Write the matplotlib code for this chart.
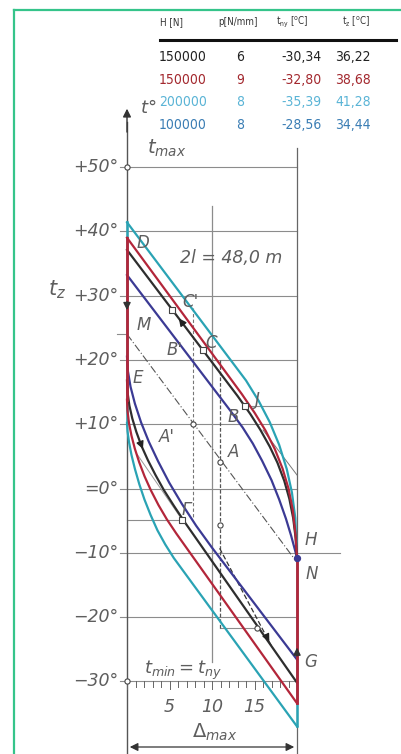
import numpy as np
import matplotlib.pyplot as plt

# picture geometry (pixels)
W, H = 401, 754
X0, XS = 127, 8.5      # pixel of delta = 0, pixels per delta unit
Y0, YS = 488.5, 6.43   # pixel of t = 0, pixels per degree

# table
tab_h = ["150000", "150000", "200000", "100000"]
tab_p = ["6", "9", "8", "8"]
tab_tny = ["-30,34", "-32,80", "-35,39", "-28,56"]
tab_tz = ["36,22", "38,68", "41,28", "34,44"]
tab_colors = ["#222222", "#a3282e", "#5ab4d6", "#3a7db4"]

# heating branches  (0, t_z) -> N
cyan_up_d = [0, 14.0, 15.5, 16.8, 17.9, 18.8, 19.4, 19.8, 20.0]
cyan_up_t = [41.4, 16.8, 13.6, 10.3, 6.8, 3.0, -0.6, -4.6, -10.8]
red_up_d = [0, 13.5, 15.0, 16.3, 17.4, 18.3, 19.0, 19.5, 19.8, 20.0]
red_up_t = [39.0, 14.7, 11.8, 9.0, 6.1, 3.1, 0.0, -3.3, -6.8, -10.8]
black_up_d = [0, 13.0, 14.5, 15.7, 16.8, 17.7, 18.5, 19.1, 19.55, 19.85, 20.0]
black_up_t = [37.1, 14.4, 11.6, 9.1, 6.5, 4.0, 1.2, -1.6, -4.6, -7.8, -10.8]
blue_up_d = [0, 12.1, 13.6, 14.8, 15.9, 17.0, 17.9, 18.7, 19.3, 19.75, 20.0]
blue_up_t = [33.2, 12.2, 9.5, 7.0, 4.3, 1.3, -1.7, -4.7, -7.3, -9.5, -10.8]

# cooling branches  E -> (delta_max, t_ny)
cyan_lo_d = [0, 0.06, 0.24, 0.53, 0.93, 1.44, 2.05, 2.77, 3.58, 4.5, 5.5, 20.0]
cyan_lo_t = [10.2, 8.9, 7.2, 5.2, 3.05, 0.7, -1.7, -4.1, -6.5, -8.7, -10.8, -37.0]
red_lo_d = [0, 0.06, 0.23, 0.52, 0.92, 1.44, 2.07, 2.83, 3.7, 4.69, 5.8, 20.0]
red_lo_t = [13.8, 12.1, 10.2, 8.25, 6.2, 4.06, 1.88, -0.34, -2.57, -4.8, -7.0, -33.4]
black_lo_d = [0, 0.07, 0.28, 0.62, 1.1, 1.71, 2.46, 3.35, 4.36, 5.52, 6.8, 20.0]
black_lo_t = [16.8, 14.9, 12.9, 10.9, 8.8, 6.6, 4.4, 2.1, -0.3, -2.7, -5.25, -30.2]
blue_lo_d = [0, 0.1, 0.42, 0.93, 1.65, 2.56, 3.67, 4.97, 6.46, 8.14, 10.0, 20.0]
blue_lo_t = [20.5, 18.3, 15.8, 13.2, 10.3, 7.3, 4.2, 0.9, -2.4, -5.8, -9.2, -26.6]

d_max = 20.0
t_N = -10.8

# auxiliary construction
mline_d = [0, 20]
mline_t = [24.0, -11.5]
sq_d = [5.3, 8.9, 13.9, 6.5]
sq_t = [27.8, 21.5, 12.8, -4.9]
circ_d = [7.8, 10.9, 10.9, 15.3, 0, 0]
circ_t = [10.0, 4.1, -5.7, -21.7, -30, 50]

y_levels = [50, 40, 30, 20, 10, 0, -10, -20, -30]
y_labels = ["+50°", "+40°", "+30°", "+20°", "+10°", "=0°", "−10°", "−20°", "−30°"]
x_ticks = [5, 10, 15]

CYAN, RED, BLACK, BLUE = "#2aa3b4", "#b3263a", "#2e2e2e", "#3b3a94"
GRID = "#8c8c8c"
TXT = "#5e5e5e"


def px(x, y):
    return (x - X0) / XS, (Y0 - y) / YS


fig = plt.figure(figsize=(W / 100, H / 100), dpi=100)
ax = fig.add_axes([0, 0, 1, 1])
ax.set_xlim(-X0 / XS, (W - X0) / XS)
ax.set_ylim((Y0 - H) / YS, Y0 / YS)
ax.axis('off')

# green frame
fig.add_artist(plt.Line2D([14 / W, 14 / W], [0, 1 - 10 / H], color="#35c48a", lw=1.6))
fig.add_artist(plt.Line2D([14 / W, 1], [1 - 10 / H, 1 - 10 / H], color="#35c48a", lw=1.6))

# table
hy = 1 - 22 / H
fkw = dict(family=['DejaVu Sans'], stretch='condensed')
fig.text(160 / W, hy, "H [N]", fontsize=7, color="#333", va='center', **fkw)
fig.text(238 / W, hy, "p[N/mm]", fontsize=7, color="#333", va='center', ha='center', **fkw)
fig.text(292 / W, hy, r"$\mathregular{t_{ny}}$ [$\mathregular{^o}$C]", fontsize=7, color="#333",
         va='center', ha='center', **fkw)
fig.text(356 / W, hy, r"$\mathregular{t_{z}}$ [$\mathregular{^o}$C]", fontsize=7, color="#333",
         va='center', ha='center', **fkw)
fig.add_artist(plt.Line2D([160 / W, 396 / W], [1 - 40 / H, 1 - 40 / H], color="#111", lw=2.2))
for i in range(4):
    yy = 1 - (57 + 22.7 * i) / H
    c = tab_colors[i]
    fig.text(183 / W, yy, tab_h[i], fontsize=10, color=c, ha='center', va='center', **fkw)
    fig.text(240 / W, yy, tab_p[i], fontsize=10, color=c, ha='center', va='center', **fkw)
    fig.text(301 / W, yy, tab_tny[i], fontsize=10, color=c, ha='center', va='center', **fkw)
    fig.text(353 / W, yy, tab_tz[i], fontsize=10, color=c, ha='center', va='center', **fkw)

# grid / frame lines
for lv in y_levels:
    ax.plot([-0.8, d_max], [lv, lv], color=GRID, lw=0.8, zorder=1)
ax.plot([d_max, 25], [-10, -10], color=GRID, lw=0.8, zorder=1)
ax.plot([13.9, d_max], [12.8, 12.8], color=GRID, lw=0.8, zorder=1)
ax.plot([0, 6.5], [-4.9, -4.9], color=GRID, lw=0.8, zorder=1)
ax.plot([10.9, 15.3], [-21.7, -21.7], color=GRID, lw=0.8, zorder=1)
ax.plot([10, 10], [44, -27], color=GRID, lw=0.9, zorder=1)
ax.plot([d_max, d_max], [53, px(0, H)[1]], color="#666", lw=0.9, zorder=1)
ax.plot([0, 0], [px(0, H)[1], 57], color="#555", lw=1.0, zorder=1)
ax.annotate('', xy=(0, 59.5), xytext=(0, 55), zorder=2,
            arrowprops=dict(arrowstyle='-|>', color='#333', lw=1, mutation_scale=12))
ax.plot([-1.2, 0], [mline_t[0], mline_t[0]], color=GRID, lw=0.8)

# minor ticks along -30 line
for k in range(0, 21):
    ax.plot([k, k], [-30, -30.8 if k % 5 else -31.2], color="#666", lw=0.7)

# auxiliary dashed lines
ax.plot(mline_d, mline_t, color="#555", lw=0.8, ls=(0, (7, 2, 1, 2)), zorder=2)
ax.plot([7.8, 7.8], [28.0, -4.5], color="#777", lw=0.8, ls=(0, (3, 2)), zorder=2)
ax.plot([10.9, 10.9], [20.0, -21.7], color="#555", lw=0.9, ls=(0, (3, 1.5)), zorder=2)
ax.plot([10.9, 17.0], [-9.3, -24.5], color="#333", lw=0.9, ls=(0, (4, 2)), zorder=2)
ax.plot([16.0, 20.0], [9.1, 2.1], color="#777", lw=0.7, zorder=2)
ax.plot([1.2, 6.5], [5.3, -4.9], color="#999", lw=0.7, zorder=2)

# loops: vertical legs first, then branches
ax.plot([0, 0], [cyan_up_t[0], cyan_lo_t[0]], color=CYAN, lw=1.8, zorder=3)
ax.plot([d_max, d_max], [t_N, cyan_lo_t[-1]], color=CYAN, lw=1.8, zorder=3)
for d, t, c in [(cyan_up_d, cyan_up_t, CYAN), (cyan_lo_d, cyan_lo_t, CYAN),
                (blue_up_d, blue_up_t, BLUE), (blue_lo_d, blue_lo_t, BLUE),
                (black_up_d, black_up_t, BLACK), (black_lo_d, black_lo_t, BLACK),
                (red_up_d, red_up_t, RED), (red_lo_d, red_lo_t, RED)]:
    ax.plot(d, t, color=c, lw=1.6, zorder=4, solid_joinstyle='round')
ax.plot([0, 0], [red_up_t[0], red_lo_t[0]], color=RED, lw=2.0, zorder=5)
ax.plot([d_max, d_max], [t_N, red_lo_t[-1]], color=RED, lw=2.0, zorder=5)

# arrows
akw = dict(arrowstyle='-|>', lw=1, mutation_scale=11)
ax.annotate('', xy=(0, 27.3), xytext=(0, 29.5), zorder=6, arrowprops=dict(color='#333', **akw))
ax.annotate('', xy=(d_max, -24.3), xytext=(d_max, -26.5), zorder=6, arrowprops=dict(color='#333', **akw))
ax.annotate('', xy=(5.9, np.interp(5.9, black_up_d, black_up_t)),
            xytext=(6.8, np.interp(6.8, black_up_d, black_up_t)), zorder=6,
            arrowprops=dict(color='#222', **akw))
ax.annotate('', xy=(2.0, np.interp(2.0, black_lo_d, black_lo_t)),
            xytext=(1.5, np.interp(1.5, black_lo_d, black_lo_t)), zorder=6,
            arrowprops=dict(color='#222', **akw))
ax.annotate('', xy=(16.9, -24.2), xytext=(16.2, -22.45), zorder=6, arrowprops=dict(color='#222', **akw))

# markers
ax.scatter(sq_d, sq_t, marker='s', s=16, facecolor='white', edgecolor='#444', lw=0.8, zorder=7)
ax.scatter(circ_d, circ_t, marker='o', s=14, facecolor='white', edgecolor='#444', lw=0.8, zorder=7)
ax.scatter([d_max], [t_N], marker='o', s=18, color=BLUE, zorder=7)

# axis labels
for lv, lab in zip(y_levels, y_labels):
    ax.text(-1.0, lv, lab, fontsize=12.5, style='italic', color=TXT, ha='right', va='center')
for xv in x_ticks:
    ax.text(xv, -34.0, str(xv), fontsize=12.5, style='italic', color=TXT, ha='center', va='center')

ax.text(*px(140, 108), r"$t°$", fontsize=13, color=TXT, ha='left', va='center')
ax.text(*px(147, 148), r"$t_{max}$", fontsize=14, color=TXT, ha='left', va='center')
ax.text(*px(57, 290), r"$t_z$", fontsize=15, color=TXT, ha='center', va='center')
ax.text(*px(231, 258), "2l = 48,0 m", fontsize=12.5, style='italic', color=TXT, ha='center', va='center')
ax.text(*px(183, 670), r"$t_{min}=t_{ny}$", fontsize=13, color=TXT, ha='center', va='center')
ax.text(*px(215, 732), r"$\Delta_{max}$", fontsize=14, color=TXT, ha='center', va='center')
ax.annotate('', xy=(0, px(0, 747)[1]), xytext=(d_max, px(0, 747)[1]),
            arrowprops=dict(arrowstyle='<|-|>', color='#333', lw=0.9, mutation_scale=12))

pt_labels = [("D", 143, 243), ("C'", 190, 302), ("C", 211, 343), ("M", 144, 325), ("B'", 175, 350),
             ("E", 138, 378), ("B", 233, 417), ("J", 257, 400), ("A'", 167, 437), ("A", 234, 452),
             ("Γ", 186, 510), ("H", 311, 540), ("N", 312, 574), ("G", 311, 662)]
for s, x, y in pt_labels:
    ax.text(*px(x, y), s, fontsize=12, style='italic', color=TXT, ha='center', va='center', zorder=8)

fig.savefig("out.png", dpi=100, facecolor='white')
